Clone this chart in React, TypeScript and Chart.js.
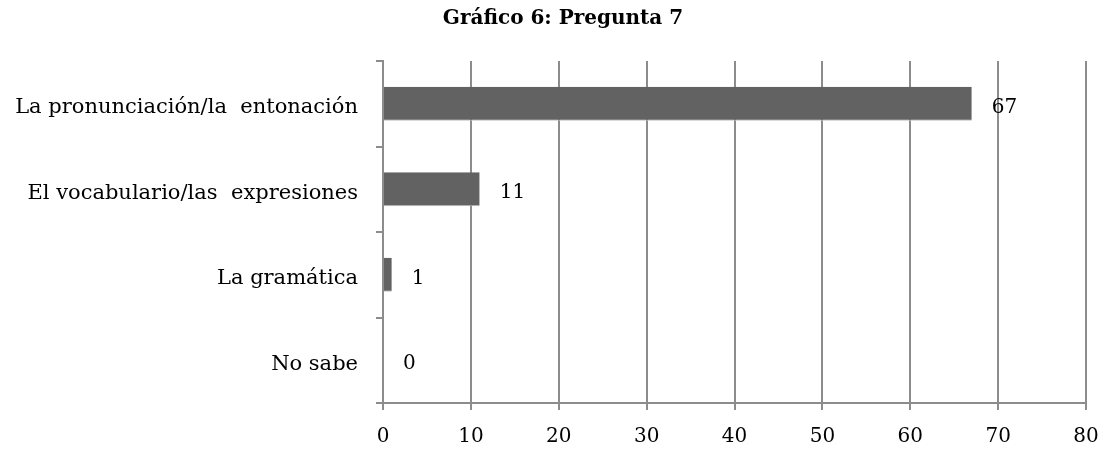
import React, { useEffect, useRef } from "react";
import { Chart, registerables } from "chart.js";

Chart.register(...registerables);

const categories = [
  "La pronunciación/la  entonación",
  "El vocabulario/las  expresiones",
  "La gramática",
  "No sabe",
];
const values = [67, 11, 1, 0];
const xTicks = [0, 10, 20, 30, 40, 50, 60, 70, 80];
const chartTitle = "Gráfico 6: Pregunta 7";

const FONT = "'DejaVu Serif', serif";
const GRID = "#8c8c8c";
const BAR = "#626262";

const valueLabels = {
  id: "valueLabels",
  afterDatasetsDraw(chart: any) {
    const ctx = chart.ctx;
    const meta = chart.getDatasetMeta(0);
    ctx.save();
    ctx.font = `20px ${FONT}`;
    ctx.fillStyle = "#000";
    ctx.textAlign = "left";
    ctx.textBaseline = "middle";
    meta.data.forEach((bar: any, i: number) => {
      ctx.fillText(String(values[i]), bar.x + 20, bar.y + 4);
    });
    ctx.restore();
  },
};

const titleText = {
  id: "titleText",
  afterDraw(chart: any) {
    const ctx = chart.ctx;
    ctx.save();
    ctx.font = `bold 20px ${FONT}`;
    ctx.fillStyle = "#000";
    ctx.textAlign = "center";
    ctx.textBaseline = "middle";
    ctx.fillText(chartTitle, 563, 19);
    ctx.restore();
  },
};

export default function App() {
  const ref = useRef<HTMLCanvasElement | null>(null);

  useEffect(() => {
    if (!ref.current) return;
    const chart = new Chart(ref.current, {
      type: "bar",
      data: {
        labels: categories,
        datasets: [
          {
            data: values,
            backgroundColor: BAR,
            borderColor: "#bdbdbd",
            borderWidth: { top: 0, left: 0, right: 0, bottom: 1 },
            categoryPercentage: 0.4,
            barPercentage: 1,
          },
        ],
      },
      options: {
        indexAxis: "y",
        responsive: false,
        animation: false,
        layout: { padding: { top: 61, right: 23, bottom: 0, left: 0 } },
        plugins: {
          legend: { display: false },
          title: { display: false },
          tooltip: { enabled: false },
        },
        scales: {
          x: {
            min: 0,
            max: 80,
            afterBuildTicks(scale: any) {
              scale.ticks = xTicks.map((v) => ({ value: v }));
            },
            grid: {
              color: GRID,
              lineWidth: 2,
              tickLength: 7,
              drawTicks: true,
            },
            border: { display: true, color: GRID, width: 2 },
            ticks: {
              font: { family: FONT, size: 20 },
              color: "#000",
              padding: 15,
              maxRotation: 0,
            },
            afterFit(scale: any) {
              scale.height = 47;
              scale.paddingLeft = 0;
              scale.paddingRight = 0;
            },
          },
          y: {
            grid: {
              drawOnChartArea: false,
              color: GRID,
              lineWidth: 2,
              tickLength: 7,
              offset: true,
            },
            border: { display: true, color: GRID, width: 2 },
            ticks: {
              font: { family: FONT, size: 21 },
              color: "#000",
              padding: 18,
              labelOffset: 4,
            },
            afterFit(scale: any) {
              scale.width = 383;
              scale.paddingTop = 0;
              scale.paddingBottom = 0;
            },
          },
        },
      },
      plugins: [valueLabels, titleText],
    });
    return () => chart.destroy();
  }, []);

  return (
    <div style={{ position: "fixed", left: 0, top: 0, width: 1109, height: 450, background: "#fff" }}>
      <canvas ref={ref} width={1109} height={450} />
    </div>
  );
}
